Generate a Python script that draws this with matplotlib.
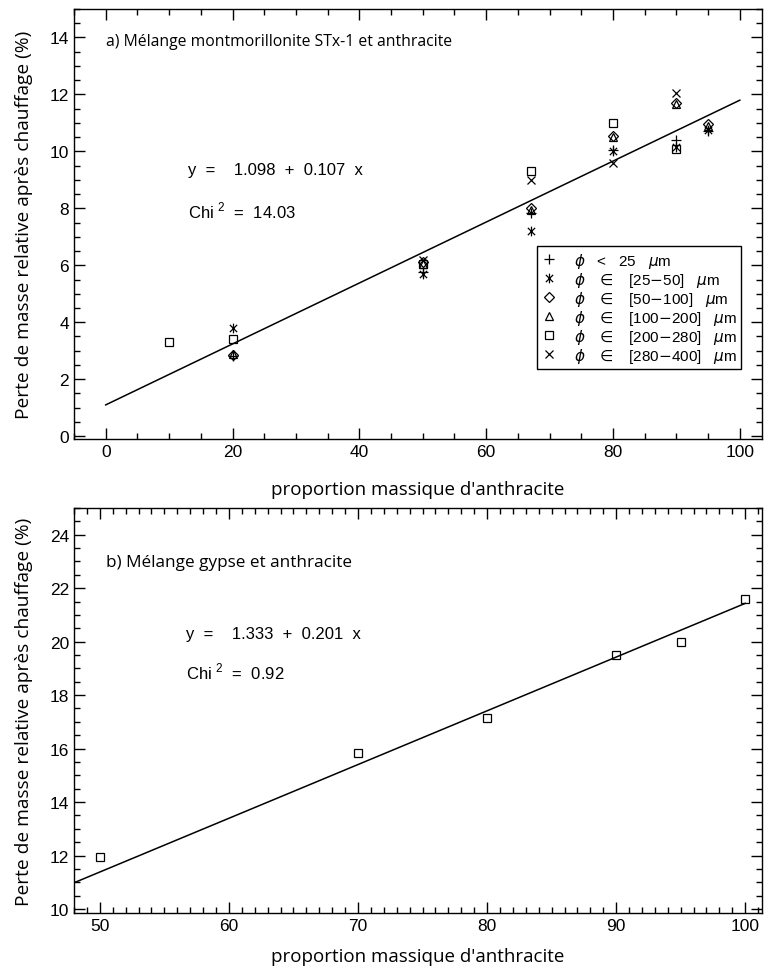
import numpy as np
import matplotlib
matplotlib.use('Agg')
import matplotlib.pyplot as plt
from matplotlib.path import Path
from matplotlib.lines import Line2D
from matplotlib.ticker import MultipleLocator

# data, panel a (montmorillonite STx-1 + anthracite)
x_plus = [20, 50, 67, 80, 90, 95]
y_plus = [2.8, 5.75, 7.85, 10.05, 10.4, 10.7]
x_star = [20, 50, 67, 80, 90, 95]
y_star = [3.8, 5.7, 7.2, 10.0, 10.15, 10.75]
x_diam = [20, 50, 67, 80, 90, 95]
y_diam = [2.85, 6.1, 8.0, 10.55, 11.7, 10.95]
x_tri = [20, 50, 67, 80, 90, 95]
y_tri = [2.9, 6.05, 7.95, 10.5, 11.65, 10.9]
x_sq = [10, 20, 50, 67, 80, 90]
y_sq = [3.3, 3.4, 6.05, 9.3, 11.0, 10.1]
x_x = [50, 67, 80, 90]
y_x = [6.2, 9.0, 9.6, 12.05]
fit_a = (1.098, 0.107)
chi_a = 14.03

# data, panel b (gypse + anthracite)
x_b = [50, 70, 80, 90, 95, 100]
y_b = [11.95, 15.85, 17.15, 19.5, 20.0, 21.6]
fit_b = (1.333, 0.201)
chi_b = 0.92

labels = [r'$\phi$   <   25   $\mu$m',
          r'$\phi$   $\in$   [25$-$50]   $\mu$m',
          r'$\phi$   $\in$   [50$-$100]   $\mu$m',
          r'$\phi$   $\in$   [100$-$200]   $\mu$m',
          r'$\phi$   $\in$   [200$-$280]   $\mu$m',
          r'$\phi$   $\in$   [280$-$400]   $\mu$m']

# asterisk like IDL psym=2
ast = Path([(0, -1), (0, 1), (-0.75, -0.75), (0.75, 0.75), (-0.75, 0.75), (0.75, -0.75)],
           [Path.MOVETO, Path.LINETO, Path.MOVETO, Path.LINETO, Path.MOVETO, Path.LINETO])

tick_font = ['Liberation Sans', 'DejaVu Sans']
lab_font = 'Open Sans'

W, H = 765, 970
fig = plt.figure(figsize=(W / 100, H / 100), dpi=100)
ax1 = fig.add_axes([74 / W, 1 - 440 / H, 688 / W, 430 / H])
ax2 = fig.add_axes([74 / W, 1 - 914 / H, 688 / W, 405 / H])


def style(ax, pad):
    ax.tick_params(which='both', direction='in', top=True, right=True, width=1)
    ax.tick_params(which='major', length=8, labelsize=12.5)
    ax.tick_params(which='minor', length=4)
    for lab in ax.get_xticklabels() + ax.get_yticklabels():
        lab.set_family(tick_font)
    for s in ax.spines.values():
        s.set_linewidth(1)
    ax.set_xlabel("proportion massique d'anthracite", family=lab_font, fontsize=13.5, labelpad=pad)
    ax.set_ylabel('Perte de masse relative après chauffage (%)', family=lab_font, fontsize=13.8, labelpad=12)


def fit_text(ax, x, y, fit, chi):
    ax.text(x, y, 'y  =    %.3f  +  %.3f  x' % fit, transform=ax.transAxes,
            family=tick_font, fontsize=12, va='center')
    ax.text(x, y - 0.093, r'Chi $^{\mathregular{2}}$  =  %.2f' % chi, transform=ax.transAxes,
            family=tick_font, fontsize=12, va='center')


mk = dict(linestyle='none', color='black', markerfacecolor='none', markeredgewidth=0.9)
series = [(x_plus, y_plus, '+', 7), (x_star, y_star, ast, 7), (x_diam, y_diam, 'D', 5),
          (x_tri, y_tri, '^', 6), (x_sq, y_sq, 's', 6), (x_x, y_x, 'x', 6)]

handles = []
for (xs, ys, m, ms), lab in zip(series, labels):
    ax1.plot(xs, ys, marker=m, markersize=ms, **mk)
    handles.append(Line2D([], [], marker=m, markersize=ms, label=lab, **mk))

xl = np.array([0, 100])
ax1.plot(xl, fit_a[0] + fit_a[1] * xl, color='black', lw=1.1)
ax1.set_xlim(-5, 103.5)
ax1.set_ylim(-0.1, 15)
ax1.xaxis.set_major_locator(MultipleLocator(20))
ax1.xaxis.set_minor_locator(MultipleLocator(5))
ax1.yaxis.set_major_locator(MultipleLocator(2))
ax1.yaxis.set_minor_locator(MultipleLocator(0.5))
style(ax1, 15)
ax1.text(0.0465, 0.926, 'a) Mélange montmorillonite STx-1 et anthracite', transform=ax1.transAxes,
         family=lab_font, fontsize=11.3, va='center')
fit_text(ax1, 0.166, 0.626, fit_a, chi_a)
leg = ax1.legend(handles=handles, loc='upper left', bbox_to_anchor=(0.673, 0.449),
                 borderaxespad=0, fancybox=False, edgecolor='black', framealpha=1,
                 prop={'family': tick_font, 'size': 11}, handlelength=1.0,
                 handletextpad=1.1, labelspacing=0.0, borderpad=0.3)
leg.get_frame().set_linewidth(1)

ax2.plot(x_b, y_b, marker='s', markersize=6, **mk)
xl = np.array([48, 100])
ax2.plot(xl, fit_b[0] + fit_b[1] * xl, color='black', lw=1.1)
ax2.set_xlim(48, 101.3)
ax2.set_ylim(9.85, 25)
ax2.xaxis.set_major_locator(MultipleLocator(10))
ax2.xaxis.set_minor_locator(MultipleLocator(1))
ax2.yaxis.set_major_locator(MultipleLocator(2))
ax2.yaxis.set_minor_locator(MultipleLocator(0.5))
style(ax2, 10)
ax2.text(0.0465, 0.867, 'b) Mélange gypse et anthracite', transform=ax2.transAxes,
         family=lab_font, fontsize=12.3, va='center')
fit_text(ax2, 0.163, 0.691, fit_b, chi_b)

fig.savefig('out.png', dpi=100)
